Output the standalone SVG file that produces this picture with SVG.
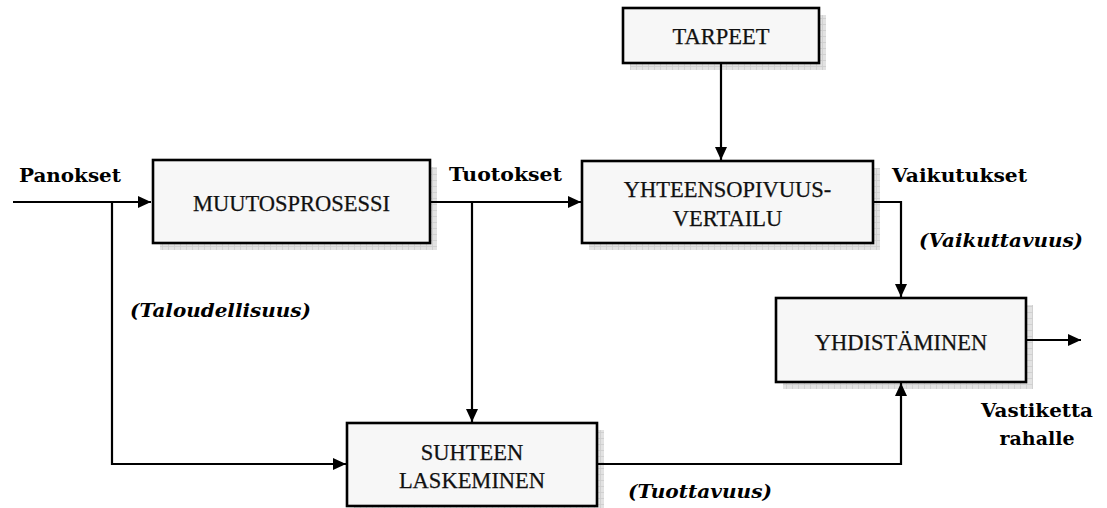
<svg xmlns="http://www.w3.org/2000/svg" width="1107" height="508" viewBox="0 0 1107 508">
  <defs>
    <!-- light grid texture used for the box shadows -->
    <pattern id="shadowGrid" width="6" height="6" patternUnits="userSpaceOnUse">
      <rect width="6" height="6" fill="#e2e2e2"/>
      <path d="M0 0.5H6M0.5 0V6" stroke="#cdcdcd" stroke-width="0.8" fill="none"/>
    </pattern>
    <marker id="arrow" viewBox="0 0 13 12" refX="13" refY="6" markerWidth="13" markerHeight="12" markerUnits="userSpaceOnUse" orient="auto">
      <path d="M0 0L13 6L0 12Z" fill="#000"/>
    </marker>
    <style>
      .shadow { fill: url(#shadowGrid); }
      .box { fill: #f7f7f7; stroke: #000; stroke-width: 2.6; }
      .label { font-family: "Liberation Serif", "Times New Roman", serif; font-size: 22.5px; fill: #111; text-anchor: middle; stroke: #111; stroke-width: 0.25; }
      .flow { font-family: "DejaVu Serif", "Liberation Serif", serif; font-size: 19px; font-weight: bold; fill: #000; }
      .flow.it { font-style: italic; }
      .conn { fill: none; stroke: #000; stroke-width: 2.2; }
    </style>
  </defs>

  <rect width="1107" height="508" fill="#fff"/>

  <!-- nodes -->
  <g id="muutosprosessi">
    <rect class="shadow" x="160" y="167" width="277" height="83"/>
    <rect class="box" x="153" y="160" width="277" height="83"/>
    <text class="label" x="291.5" y="211">MUUTOSPROSESSI</text>
  </g>

  <g id="tarpeet">
    <rect class="shadow" x="630" y="15" width="196" height="55"/>
    <rect class="box" x="623" y="8" width="196" height="55"/>
    <text class="label" x="721" y="44">TARPEET</text>
  </g>

  <g id="yhteensopivuusvertailu">
    <rect class="shadow" x="589" y="168" width="291" height="82"/>
    <rect class="box" x="582" y="161" width="291" height="82"/>
    <text class="label" x="727.5" y="197">YHTEENSOPIVUUS-</text>
    <text class="label" x="727.5" y="226">VERTAILU</text>
  </g>

  <g id="yhdistaminen">
    <rect class="shadow" x="783" y="305" width="250" height="84"/>
    <rect class="box" x="776" y="298" width="250" height="84"/>
    <text class="label" x="901" y="350">YHDISTÄMINEN</text>
  </g>

  <g id="suhteen-laskeminen">
    <rect class="shadow" x="354" y="430" width="250" height="84"/>
    <rect class="box" x="347" y="423" width="250" height="83"/>
    <text class="label" x="472" y="460">SUHTEEN</text>
    <text class="label" x="472" y="488">LASKEMINEN</text>
  </g>

  <!-- connectors, drawn over the shadows -->
  <g id="connectors">
    <path class="conn" d="M13 202H151" marker-end="url(#arrow)"/>
    <path class="conn" d="M112 202V464H346" marker-end="url(#arrow)"/>
    <path class="conn" d="M430 202H581" marker-end="url(#arrow)"/>
    <path class="conn" d="M472 202V422" marker-end="url(#arrow)"/>
    <path class="conn" d="M721 63V160" marker-end="url(#arrow)"/>
    <path class="conn" d="M873 202H901V297" marker-end="url(#arrow)"/>
    <path class="conn" d="M597 464H901V383" marker-end="url(#arrow)"/>
    <path class="conn" d="M1026 340H1081" marker-end="url(#arrow)"/>
  </g>

  <!-- flow labels -->
  <g id="labels">
    <text class="flow" x="19" y="182" textLength="102" lengthAdjust="spacingAndGlyphs">Panokset</text>
    <text class="flow" x="449" y="181" textLength="113" lengthAdjust="spacingAndGlyphs">Tuotokset</text>
    <text class="flow" x="892" y="182" textLength="135" lengthAdjust="spacingAndGlyphs">Vaikutukset</text>
    <text class="flow it" x="130" y="317" textLength="181" lengthAdjust="spacingAndGlyphs">(Taloudellisuus)</text>
    <text class="flow it" x="919" y="247" textLength="164" lengthAdjust="spacingAndGlyphs">(Vaikuttavuus)</text>
    <text class="flow it" x="628" y="498" textLength="144" lengthAdjust="spacingAndGlyphs">(Tuottavuus)</text>
    <text class="flow" x="981" y="417" textLength="112" lengthAdjust="spacingAndGlyphs">Vastiketta</text>
    <text class="flow" x="1037" y="445" text-anchor="middle">rahalle</text>
  </g>
</svg>
